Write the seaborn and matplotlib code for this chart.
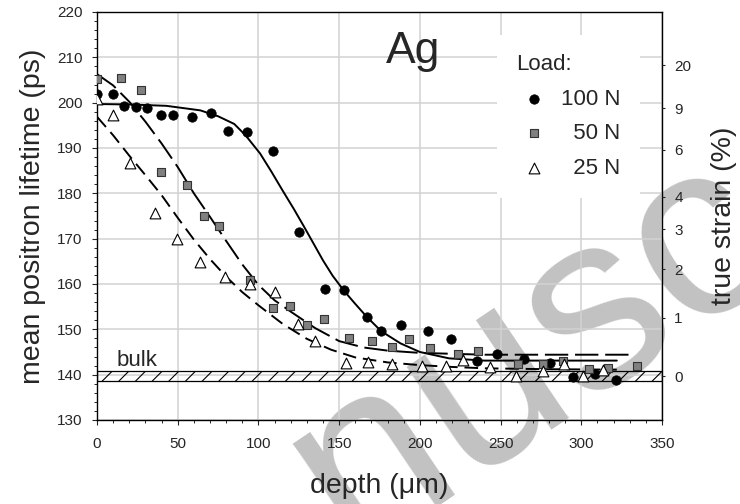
import matplotlib
matplotlib.use("Agg")
import matplotlib.pyplot as plt
from matplotlib.patches import Rectangle
from matplotlib.ticker import MultipleLocator
import seaborn as sns

# measured points: depth (um) and mean positron lifetime (ps)
depth_100N = [0, 10, 17, 24, 31, 39.5, 47, 59, 70.4, 81, 93, 109, 125, 141.5, 153, 167, 176,
              188.3, 205, 219.5, 235.5, 247.5, 264.3, 280.5, 294.6, 308.7, 321.6]
tau_100N = [201.9, 201.9, 199.2, 199.0, 198.8, 197.3, 197.2, 196.8, 197.8, 193.7, 193.6, 189.3, 171.5,
            158.9, 158.7, 152.8, 149.6, 151.0, 149.6, 147.9, 143.0, 144.5, 143.5, 142.5, 139.4, 140.2, 138.9]

depth_50N = [0, 15, 27.5, 39.7, 55.9, 66.4, 75.8, 94.8, 109.2, 119.4, 129.9, 140.9, 156.3, 170.6,
             182.8, 193.3, 206.1, 223.7, 235.8, 260.8, 276.1, 288.9, 305, 316.6, 334.4]
tau_50N = [205.2, 205.4, 202.7, 184.7, 181.8, 175.0, 172.9, 160.9, 154.7, 155.1, 151.0, 152.3, 148.0,
           147.4, 146.2, 147.8, 145.9, 144.6, 145.3, 142.3, 142.4, 143.1, 141.3, 141.4, 142.0]

depth_25N = [0, 10.1, 20.4, 36, 49.4, 64, 79.5, 95, 110.5, 124.7, 135.1, 154, 167.6, 182.7, 201.3,
             216, 227, 243.7, 259.5, 276.1, 289, 301.3, 313.2]
tau_25N = [200.9, 197.3, 186.6, 175.6, 170.0, 164.8, 161.5, 160.1, 158.3, 151.2, 147.5, 142.6, 142.7,
           142.4, 141.8, 141.9, 143.2, 141.7, 139.7, 140.8, 142.4, 139.7, 141.0]

# fitted curves
fit_depth_100N = [0, 20, 43, 64, 75, 85, 92, 101, 108, 115, 122, 128, 134, 140, 146, 153, 160, 167,
                  176, 188, 200, 218, 240, 280, 322]
fit_tau_100N = [199.7, 199.6, 199.3, 198.3, 197.0, 195.3, 192.8, 188.8, 184.8, 180.6, 176.5, 172.8,
                169.0, 165.2, 161.8, 158.5, 155.6, 152.8, 149.6, 146.9, 145.0, 143.6, 143.1, 143.1, 143.1]

fit_depth_50N = [0, 10, 20, 30, 40, 50, 60, 70, 80, 90, 100, 110, 120, 135, 150, 165, 180, 200, 220, 240, 333]
fit_tau_50N = [206.3, 203.8, 200.2, 195.8, 191.0, 185.8, 180.0, 174.8, 169.5, 164.3, 159.8, 156.4, 153.9,
               150.3, 147.4, 146.0, 145.3, 144.8, 144.6, 144.4, 144.4]

fit_depth_25N = [0, 10, 20, 30, 40, 50, 60, 70, 80, 90, 100, 115, 130, 145, 160, 180, 200, 220, 240, 280, 322]
fit_tau_25N = [196.9, 192.8, 188.3, 184.0, 179.6, 174.6, 169.8, 165.5, 161.6, 158.2, 155.3, 151.2, 147.9,
               145.5, 143.8, 142.7, 142.1, 141.7, 141.4, 141.2, 141.1]

# right axis: true strain (%) placed on the lifetime scale
strain_pos = [139.7, 152.5, 163.3, 172.1, 179.2, 189.6, 198.8, 208.2]
strain_labels = ["0", "1", "2", "3", "4", "6", "9", "20"]

bulk_low, bulk_high = 138.5, 140.9

sns.set_style("white")
plt.rcParams['font.family'] = ['Liberation Sans', 'DejaVu Sans']
plt.rcParams['hatch.linewidth'] = 0.8

fig = plt.figure(figsize=(7.4, 5.04), dpi=100)
fig.patch.set_facecolor("white")
ax = fig.add_axes([0.1311, 0.1667, 0.7635, 0.8095])
ax.patch.set_visible(False)
ax.set_zorder(1)

# watermark behind the plot
fig.text(0.72, 0.30, "nusc", rotation=34, fontsize=180, color="#c2c2c2",
         ha="center", va="center", zorder=0)

ax.grid(True, color="#d2d2d2", lw=1.1)
ax.set_axisbelow(True)

# bulk band
ax.add_patch(Rectangle((0, bulk_low), 350, bulk_high - bulk_low, facecolor="none",
                       edgecolor="black", hatch="//", lw=0.9, zorder=1.5))
ax.text(12.4, 141.9, "bulk", fontsize=16, va="baseline", zorder=3)

# fits
sns.lineplot(x=fit_depth_100N, y=fit_tau_100N, ax=ax, color="black", lw=1.4, sort=False, zorder=2)
sns.lineplot(x=fit_depth_50N, y=fit_tau_50N, ax=ax, color="black", lw=1.4, sort=False, zorder=2,
             linestyle=(0, (12, 3.5)))
sns.lineplot(x=fit_depth_25N, y=fit_tau_25N, ax=ax, color="black", lw=1.4, sort=False, zorder=2,
             linestyle=(0, (7, 3.5)))

# points
sns.scatterplot(x=depth_100N, y=tau_100N, ax=ax, marker="o", s=46, color="black",
                edgecolor="black", linewidth=0.5, zorder=4, label="100 N")
sns.scatterplot(x=depth_50N, y=tau_50N, ax=ax, marker="s", s=36, color="#808080",
                edgecolor="#333333", linewidth=0.8, zorder=4, label="  50 N")
sns.scatterplot(x=depth_25N, y=tau_25N, ax=ax, marker="^", s=60, color="white",
                edgecolor="black", linewidth=0.8, zorder=4, label="  25 N")

ax.text(196, 208.7, "Ag", fontsize=32, ha="center", va="baseline")

ax.set_xlim(0, 350)
ax.set_ylim(130, 220)
ax.set_xticks([0, 50, 100, 150, 200, 250, 300, 350])
ax.set_yticks(range(130, 221, 10))
ax.xaxis.set_minor_locator(MultipleLocator(10))
ax.yaxis.set_minor_locator(MultipleLocator(2))
ax.tick_params(axis="both", which="major", direction="out", length=3.6, width=0.8,
               labelsize=11, left=True, bottom=True, right=False, top=False)
ax.tick_params(axis="y", which="major", pad=7)
ax.tick_params(axis="x", which="major", pad=8.5)
ax.tick_params(axis="both", which="minor", direction="out", length=2, width=0.7,
               left=True, bottom=True, right=False, top=False)
for sp in ax.spines.values():
    sp.set_color("black")
    sp.set_linewidth(1.0)

ax.set_xlabel("depth (\u03bcm)", fontsize=20.5, labelpad=16)
ax.set_ylabel("mean positron lifetime (ps)", fontsize=20.5, labelpad=8)

leg = ax.legend(title="Load:", loc="upper left", bbox_to_anchor=(0.708, 0.944),
                borderaxespad=0, borderpad=0.85, fontsize=16, title_fontsize=16,
                handlelength=1.6, handletextpad=0.45, labelspacing=0.62,
                alignment="left", frameon=True, fancybox=False)
leg.get_frame().set_facecolor("white")
leg.get_frame().set_edgecolor("none")
leg.get_frame().set_alpha(1)

ax2 = ax.twinx()
ax2.set_zorder(2)
ax2.patch.set_visible(False)
ax2.set_ylim(130, 220)
ax2.set_yticks(strain_pos)
ax2.set_yticklabels(strain_labels)
ax2.grid(False)
ax2.tick_params(axis="y", right=True, direction="out", length=2.4, width=0.8,
                labelsize=11, pad=6.5)
for sp in ax2.spines.values():
    sp.set_visible(False)
ax2.set_ylabel("true strain (%)", fontsize=20.5, labelpad=14)

fig.savefig("out.png", dpi=100, facecolor="white")
